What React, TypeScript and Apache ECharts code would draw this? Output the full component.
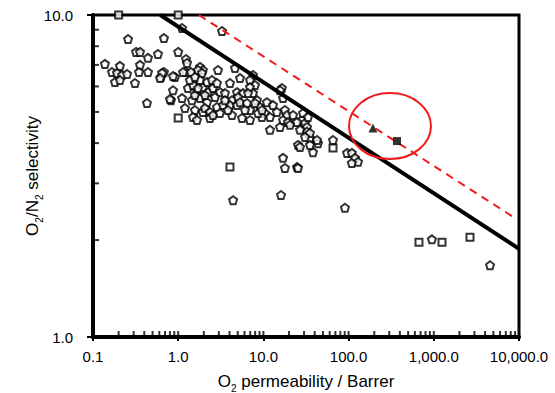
import React, { useEffect, useRef } from "react";
import * as echarts from "echarts";

// Open markers: O2 permeability (Barrer) and O2/N2 selectivity
const openPermeability = [
  1.11, 3.27, 0.258, 0.68, 0.32, 0.356, 0.442, 0.579, 1.0, 1.235,
  0.138, 0.207, 0.167, 0.191, 0.219, 0.251, 0.181, 0.207, 0.311, 0.356,
  0.347, 0.442, 0.43, 0.628, 0.68, 0.917, 0.869, 0.823, 1.11, 1.27,
  1.235, 1.41, 1.8, 1.95, 2.93, 4.64, 7.55, 0.645, 0.612, 0.869,
  1.14, 1.71, 1.9, 1.3, 1.66, 1.95, 0.8, 1.45, 1.8, 2.18,
  1.57, 1.95, 1.49, 1.49, 2.24, 2.56, 3.09, 3.54, 2.18, 2.49,
  2.85, 4.05, 5.31, 6.96, 7.97, 4.9, 4.28, 5.76, 6.96, 7.55,
  5.04, 6.6, 2.06, 2.36, 2.85, 3.36, 4.05, 4.9, 5.31, 6.42,
  6.96, 8.41, 9.13, 11.0, 12.96, 14.4, 10.4, 11.95, 17.9, 18.9,
  17.0, 22.3, 28.4, 30.8, 32.5, 1.66, 2.36, 4.28, 6.96, 11.95,
  15.65, 32.5, 35.2, 43.7, 25.5, 38.2, 65.6, 17.0, 24.8, 95.8,
  16.5, 17.0, 15.65, 9.6, 19.4, 24.8, 26.9, 29.2, 33.4, 42.6,
  35.2, 20.5, 30.8, 35.2, 109, 119, 129, 109, 17.9, 25.5,
  26.9, 4.41, 16.1, 90.6, 950, 4570, 1.37, 1.57, 1.8, 1.57,
  2.06, 2.7, 1.2, 2.56, 3.09, 3.54, 3.84, 6.08, 5.61, 8.65,
  9.63, 7.97, 1.71,
];
const openSelectivity = [
  9.11, 8.92, 8.42, 8.48, 7.68, 7.68, 7.36, 7.57, 7.68, 7.3,
  7.05, 6.95, 6.65, 6.61, 6.51, 6.56, 6.19, 6.28, 6.15, 7.0,
  6.65, 6.65, 5.33, 6.42, 6.65, 6.42, 5.84, 5.44, 5.52, 7.1,
  6.65, 6.65, 6.9, 6.75, 6.75, 6.85, 6.51, 6.61, 6.37, 6.46,
  6.65, 6.75, 6.61, 5.93, 5.84, 5.97, 5.48, 5.44, 5.52, 5.36,
  5.07, 5.0, 4.82, 6.06, 5.76, 5.93, 5.76, 5.72, 6.19, 6.28,
  6.15, 6.15, 6.37, 6.28, 6.06, 5.76, 5.44, 5.72, 5.97, 5.72,
  5.56, 5.72, 5.14, 5.0, 5.18, 5.25, 5.25, 5.25, 5.36, 5.33,
  5.07, 5.44, 5.18, 5.36, 5.25, 5.0, 4.96, 4.82, 5.07, 4.89,
  4.72, 4.89, 4.72, 4.62, 4.49, 4.72, 4.79, 4.89, 4.72, 4.4,
  4.49, 4.34, 4.15, 4.0, 3.95, 3.75, 4.09, 3.6, 3.37, 3.73,
  5.93, 5.52, 5.84, 4.82, 4.65, 4.65, 4.4, 4.96, 4.82, 4.09,
  4.3, 4.56, 4.18, 3.95, 3.73, 3.6, 3.5, 3.47, 3.35, 3.35,
  3.89, 2.66, 2.76, 2.52, 2.01, 1.67, 6.28, 5.64, 6.28, 6.42,
  5.64, 5.56, 5.14, 4.89, 4.96, 5.44, 5.07, 5.07, 4.79, 4.96,
  5.07, 5.33, 5.93,
];

// Open square markers
const squarePermeability = [0.2, 1.0, 1.0, 65.6, 4.05, 670, 1248, 2660];
const squareSelectivity = [10, 10, 4.79, 3.86, 3.37, 1.97, 1.97, 2.04];

// Highlighted (filled) new materials
const trianglePermeability = [193];
const triangleSelectivity = [4.46];
const filledSquarePermeability = [370];
const filledSquareSelectivity = [4.06];

// Upper bound lines
const bound1991Permeability = [0.617, 10000];
const bound1991Selectivity = [10, 1.88];
const boundNewPermeability = [1.75, 8990];
const boundNewSelectivity = [10, 2.34];

// Highlight ellipse centre (data units)
const highlightCentre = [306, 4.52];

// Axis ticks
const xTickLabels = ["0.1", "1.0", "10.0", "100.0", "1,000.0", "10,000.0"];
const yTickLabels = ["1.0", "10.0"];
const xDecades = [0.1, 1, 10, 100, 1000];
const tickMultipliers = [1, 2, 3, 4, 5, 6, 7, 8, 9];
const yMinorMultipliers = [2, 3, 4, 5, 6, 7, 8, 9];

const FONT = "'Liberation Sans', Arial, Helvetica, sans-serif";

const zip = (a: number[], b: number[]) => a.map((v, i) => [v, b[i]]);

const pentagon = "path://M5,0 L10,3.8 L8.1,10 L1.9,10 L0,3.8 Z";

export default function App() {
  const ref = useRef<HTMLDivElement>(null);

  useEffect(() => {
    if (!ref.current) return;
    const chart = echarts.init(ref.current, undefined, { renderer: "svg" });

    const xTicks = xDecades.flatMap((d) => tickMultipliers.map((m) => [d * m, 1]));
    xTicks.push([10000, 1]);
    const yTicks = yMinorMultipliers.map((m) => [0.1, m]);

    const rich = {
      a: { fontSize: 17, color: "#000", fontFamily: FONT, lineHeight: 20, verticalAlign: "bottom" },
      s: { fontSize: 10, color: "#000", fontFamily: FONT, lineHeight: 20, verticalAlign: "bottom", padding: [0, 0, -3, 0] },
    };

    chart.setOption({
      animation: false,
      backgroundColor: "#ffffff",
      textStyle: { fontFamily: FONT },
      grid: {
        left: 93,
        right: 36,
        top: 15,
        bottom: 56,
        show: true,
        borderColor: "#000",
        borderWidth: 3,
        outerBoundsMode: "none",
      },
      xAxis: {
        type: "log",
        logBase: 10,
        min: 0.1,
        max: 10000,
        name: "{a|O}{s|2}{a| permeability / Barrer}",
        nameLocation: "middle",
        nameGap: 33,
        nameMoveOverlap: false,
        nameTextStyle: { rich },
        axisLine: { lineStyle: { color: "#000", width: 4 } },
        axisTick: { show: true, inside: false, length: 4, lineStyle: { color: "#000", width: 2 } },
        splitLine: { show: false },
        axisLabel: {
          color: "#000",
          fontSize: 15,
          fontFamily: FONT,
          margin: 12,
          hideOverlap: false,
          showMinLabel: true,
          showMaxLabel: true,
          formatter: (v: number) => xTickLabels[Math.round(Math.log10(v)) + 1] ?? "",
        },
      },
      yAxis: {
        type: "log",
        logBase: 10,
        min: 1,
        max: 10,
        name: "{a|O}{s|2}{a|/N}{s|2}{a| selectivity}",
        nameLocation: "middle",
        nameRotate: 90,
        nameGap: 52,
        nameMoveOverlap: false,
        nameTextStyle: { rich },
        axisLine: { lineStyle: { color: "#000", width: 4 } },
        axisTick: { show: true, inside: false, length: 6, lineStyle: { color: "#000", width: 2 } },
        splitLine: { show: false },
        axisLabel: {
          color: "#000",
          fontSize: 15,
          fontFamily: FONT,
          margin: 20,
          hideOverlap: false,
          showMinLabel: true,
          showMaxLabel: true,
          formatter: (v: number) => yTickLabels[Math.round(Math.log10(v))] ?? "",
        },
      },
      series: [
        {
          name: "Open materials",
          type: "scatter",
          data: zip(openPermeability, openSelectivity),
          symbol: pentagon,
          symbolSize: 8,
          itemStyle: { color: "#fff", borderColor: "#000", borderWidth: 2 },
          z: 3,
        },
        {
          name: "Open squares",
          type: "scatter",
          data: zip(squarePermeability, squareSelectivity),
          symbol: "rect",
          symbolSize: 7,
          clip: false,
          itemStyle: { color: "#fff", borderColor: "#000", borderWidth: 2 },
          z: 3,
        },
        {
          name: "1991 upper bound",
          type: "line",
          data: zip(bound1991Permeability, bound1991Selectivity),
          symbol: "none",
          lineStyle: { color: "#000", width: 4 },
          z: 4,
        },
        {
          name: "New upper bound",
          type: "line",
          data: zip(boundNewPermeability, boundNewSelectivity),
          symbol: "none",
          lineStyle: { color: "#ee1c1c", width: 2, type: [8, 6] },
          z: 4,
        },
        {
          name: "New material (triangle)",
          type: "scatter",
          data: zip(trianglePermeability, triangleSelectivity),
          symbol: "triangle",
          symbolSize: 9,
          itemStyle: { color: "#000" },
          z: 5,
        },
        {
          name: "New material (square)",
          type: "scatter",
          data: zip(filledSquarePermeability, filledSquareSelectivity),
          symbol: "rect",
          symbolSize: 8,
          itemStyle: { color: "#000" },
          z: 5,
        },
        {
          name: "x ticks",
          type: "scatter",
          data: xTicks,
          symbol: "rect",
          symbolSize: [2, 6],
          symbolOffset: [0, -3],
          clip: false,
          silent: true,
          itemStyle: { color: "#000" },
          z: 6,
        },
        {
          name: "y ticks",
          type: "scatter",
          data: yTicks,
          symbol: "rect",
          symbolSize: [6, 2],
          symbolOffset: [3, 0],
          clip: false,
          silent: true,
          itemStyle: { color: "#000" },
          z: 6,
        },
      ],
    });

    const c = chart.convertToPixel({ gridIndex: 0 }, highlightCentre) as number[];
    chart.setOption({
      graphic: [
        {
          type: "ellipse",
          shape: { cx: c[0], cy: c[1], rx: 41, ry: 33 },
          style: { fill: "none", stroke: "#ee1c1c", lineWidth: 2 },
          z: 10,
        },
      ],
    });

    return () => chart.dispose();
  }, []);

  return (
    <div
      ref={ref}
      style={{ position: "fixed", left: 0, top: 0, width: 555, height: 393 }}
    />
  );
}
